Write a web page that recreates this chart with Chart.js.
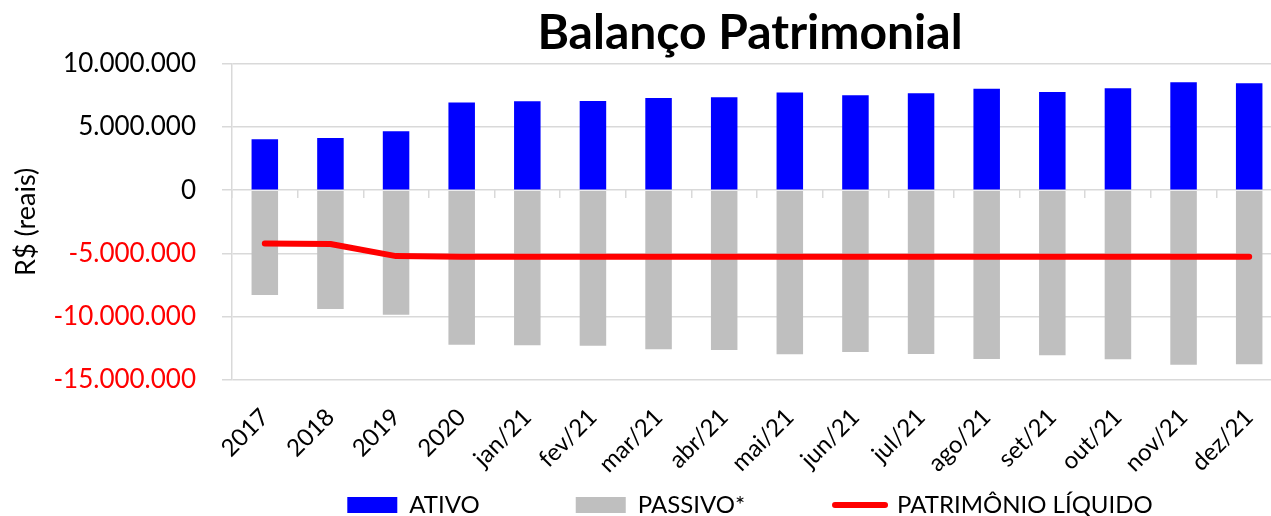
<!DOCTYPE html>
<html>
<head>
<meta charset="utf-8">
<script src="https://cdn.jsdelivr.net/npm/chart.js@4/dist/chart.umd.min.js"></script>
<style>
    html, body { margin: 0; padding: 0; background: #fff; overflow: hidden; }
    #wrap { width: 1500px; height: 527px; }
</style>
</head>
<body>
<div id="wrap"><canvas id="balanco" width="1500" height="527"></canvas></div>
<script>
// Données (R$)
const categorias = ['2017', '2018', '2019', '2020', 'jan/21', 'fev/21', 'mar/21', 'abr/21',
    'mai/21', 'jun/21', 'jul/21', 'ago/21', 'set/21', 'out/21', 'nov/21', 'dez/21'];

const ativo = [4030000, 4130000, 4660000, 6920000, 7020000, 7050000, 7290000, 7340000,
    7710000, 7500000, 7660000, 8020000, 7760000, 8050000, 8520000, 8450000];

const passivo = [-8290000, -9390000, -9840000, -12210000, -12260000, -12290000, -12580000, -12630000,
    -12970000, -12790000, -12940000, -13340000, -13050000, -13370000, -13790000, -13760000];

const patrimonio = [-4210000, -4260000, -5210000, -5270000, -5260000, -5260000, -5260000, -5260000,
    -5260000, -5260000, -5260000, -5260000, -5260000, -5260000, -5260000, -5260000];

const yTicks = [10000000, 5000000, 0, -5000000, -10000000, -15000000];

const legendas = ['ATIVO', 'PASSIVO*', 'PATRIMÔNIO LÍQUIDO'];

// format 10.000.000
function formatReais(v) {
    const s = Math.abs(v).toString().replace(/\B(?=(\d{3})+(?!\d))/g, '.');
    return (v < 0 ? '-' : '') + s;
}

const FONTE = 'Lato';
const CINZA_GRADE = '#d9d9d9';

new Chart(document.getElementById('balanco').getContext('2d'), {
    data: {
        labels: categorias,
        datasets: [
            {
                type: 'line',
                label: legendas[2],
                data: patrimonio,
                borderColor: '#ff0000',
                backgroundColor: '#ff0000',
                borderWidth: 6,
                borderCapStyle: 'round',
                borderJoinStyle: 'round',
                pointRadius: 0,
                tension: 0,
                order: 0
            },
            {
                type: 'bar',
                label: legendas[0],
                data: ativo,
                backgroundColor: '#0000ff',
                grouped: false,
                barPercentage: 0.404,
                categoryPercentage: 1,
                order: 1
            },
            {
                type: 'bar',
                label: legendas[1],
                data: passivo,
                backgroundColor: '#bfbfbf',
                grouped: false,
                barPercentage: 0.404,
                categoryPercentage: 1,
                order: 1
            }
        ]
    },
    options: {
        responsive: false,
        animation: false,
        devicePixelRatio: 1,
        layout: { padding: 0 },
        scales: {
            x: {
                type: 'category',
                position: 'bottom',
                offset: true,
                grid: { display: false, drawTicks: false },
                border: { display: false },
                ticks: {
                    autoSkip: false,
                    minRotation: 45,
                    maxRotation: 45,
                    padding: 23,
                    color: '#000',
                    font: { family: FONTE, size: 24 }
                },
                afterFit: s => { s.height = 103; }
            },
            // petits traits sur l'axe à zéro
            x2: {
                type: 'category',
                position: { y: 0 },
                offset: true,
                grid: {
                    offset: true,
                    drawOnChartArea: false,
                    drawTicks: true,
                    tickLength: 8,
                    color: CINZA_GRADE,
                    lineWidth: 1.5
                },
                border: { display: false },
                ticks: { display: false }
            },
            y: {
                min: -15000000,
                max: 10000000,
                afterBuildTicks: s => { s.ticks = yTicks.map(v => ({ value: v })); },
                grid: {
                    color: CINZA_GRADE,
                    lineWidth: 1.5,
                    tickLength: 10
                },
                border: { display: true, color: CINZA_GRADE, width: 1.5 },
                ticks: {
                    padding: 26,
                    font: { family: FONTE, size: 26 },
                    color: ctx => (ctx.tick && ctx.tick.value < 0 ? '#ff0000' : '#000'),
                    callback: v => formatReais(v)
                },
                title: {
                    display: true,
                    text: 'R$ (reais)',
                    color: '#000',
                    font: { family: FONTE, size: 27 },
                    padding: { top: 10, bottom: 0 }
                },
                afterFit: s => { s.width = 232; }
            },
            // espace à droite (le graphique déborde de la fenêtre)
            y2: {
                position: 'right',
                display: true,
                grid: { display: false, drawTicks: false },
                border: { display: false },
                ticks: { display: false },
                afterFit: s => { s.width = 218; }
            }
        },
        plugins: {
            title: {
                display: true,
                text: 'Balanço Patrimonial',
                color: '#000',
                font: { family: FONTE, size: 48, weight: 'bold' },
                padding: { top: 5, bottom: 1 }
            },
            legend: {
                position: 'bottom',
                labels: {
                    padding: 10,
                    usePointStyle: true,
                    pointStyleWidth: 50,
                    boxHeight: 16,
                    color: '#000',
                    font: { family: FONTE, size: 24 },
                    generateLabels: () => [
                        {
                            text: legendas[0] + ' '.repeat(14),
                            fillStyle: '#0000ff', strokeStyle: '#0000ff', lineWidth: 0,
                            pointStyle: 'rect', datasetIndex: 1, hidden: false, fontColor: '#000'
                        },
                        {
                            text: legendas[1] + ' '.repeat(13),
                            fillStyle: '#bfbfbf', strokeStyle: '#bfbfbf', lineWidth: 0,
                            pointStyle: 'rect', datasetIndex: 2, hidden: false, fontColor: '#000'
                        },
                        {
                            text: legendas[2],
                            fillStyle: '#ff0000', strokeStyle: '#ff0000', lineWidth: 6,
                            lineCap: 'round', pointStyle: 'line', datasetIndex: 0, hidden: false, fontColor: '#000'
                        }
                    ]
                }
            },
            tooltip: { enabled: false }
        }
    }
});
</script>
</body>
</html>
